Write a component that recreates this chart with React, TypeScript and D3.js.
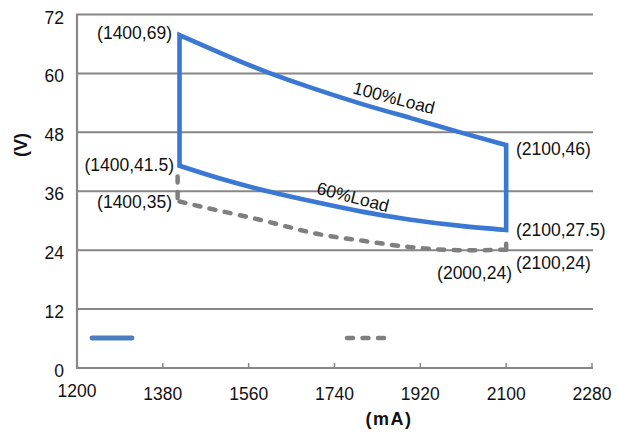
import React from "react";
import * as d3 from "d3";

// ---- data ----
const yTicks = [0, 12, 24, 36, 48, 60, 72];
const xTicks = [1200, 1380, 1560, 1740, 1920, 2100, 2280];

const curveX = [1415, 1500, 1600, 1700, 1800, 1900, 2000, 2100];
const load100 = [67.8, 64.2, 60.2, 56.8, 53.7, 50.9, 48.1, 45.4];
const load60 = [41.2, 38.6, 36.0, 33.8, 31.8, 30.2, 29.0, 28.1];
const lowLine = [33.9, 32.0, 29.8, 27.4, 25.9, 24.6, 24.0, 24.1];
const lowLeftVertical = [39.0, 33.9];
const lowRightVertical = [24.1, 25.6];
const lowLeftX = 1411;

const pointLabels = [
  { text: "(1400,69)", x: 172, y: 33, anchor: "end" },
  { text: "(1400,41.5)", x: 174, y: 165, anchor: "end" },
  { text: "(1400,35)", x: 172, y: 202, anchor: "end" },
  { text: "(2100,46)", x: 516, y: 149, anchor: "start" },
  { text: "(2100,27.5)", x: 516, y: 230, anchor: "start" },
  { text: "(2100,24)", x: 516, y: 263, anchor: "start" },
  { text: "(2000,24)", x: 512, y: 273, anchor: "end" },
];

const W = 617;
const H = 434;
const left = 77;
const right = 592;
const top = 14.5;
const bottom = 368;

export default function App() {
  const x = d3.scaleLinear().domain([1200, 2280]).range([left, right]);
  const y = d3.scaleLinear().domain([0, 72]).range([bottom, top]);

  const line = d3
    .line<[number, number]>()
    .x((d) => x(d[0]))
    .y((d) => y(d[1]))
    .curve(d3.curveNatural);
  const straight = d3
    .line<[number, number]>()
    .x((d) => x(d[0]))
    .y((d) => y(d[1]));

  const topPts: [number, number][] = curveX.map((v, i) => [v, load100[i]]);
  const botPts: [number, number][] = curveX.map((v, i) => [v, load60[i]]);
  const botRev = [...botPts].reverse();
  const bluePath =
    (line(topPts) || "") + (line(botRev) || "").replace(/^M/, "L") + "Z";

  const lowPts: [number, number][] = curveX.map((v, i) => [v, lowLine[i]]);
  const lowLeft: [number, number][] = lowLeftVertical.map((v) => [lowLeftX, v]);
  const lowRight: [number, number][] = lowRightVertical.map((v) => [2100, v]);

  const grid = "#878787";
  const blue = "#3b78d3";
  const dashGrey = "#7f7f7f";
  const font = "'Liberation Sans', Arial, sans-serif";
  const fs = 17.5;
  const dash = "6,9.5";

  return (
    <svg
      width={W}
      height={H}
      style={{ position: "absolute", left: 0, top: 0, background: "#fff" }}
      fontFamily={font}
    >
      <rect width={W} height={H} fill="#fff" />
      {/* gridlines */}
      {yTicks
        .filter((t) => t > 0)
        .map((t) => (
          <line
            key={t}
            x1={left}
            x2={right + 1}
            y1={y(t)}
            y2={y(t)}
            stroke={grid}
            strokeWidth={2}
          />
        ))}
      {/* axes */}
      <line x1={left} x2={left} y1={top - 1} y2={bottom + 1} stroke={grid} strokeWidth={2.2} />
      <line x1={left - 1} x2={right + 1} y1={bottom} y2={bottom} stroke={grid} strokeWidth={2.2} />
      {xTicks.map((t) => (
        <line
          key={t}
          x1={x(t)}
          x2={x(t)}
          y1={bottom}
          y2={bottom - 5}
          stroke={grid}
          strokeWidth={1.5}
        />
      ))}
      {/* y tick labels */}
      {yTicks.map((t) => (
        <text
          key={t}
          x={64}
          y={y(t) + 3}
          textAnchor="end"
          dominantBaseline="central"
          fontSize={fs}
          fill="#111"
        >
          {t}
        </text>
      ))}
      {/* x tick labels */}
      {xTicks.map((t) => (
        <text
          key={t}
          x={x(t)}
          y={t === 1200 ? 391 : 394}
          textAnchor="middle"
          dominantBaseline="central"
          fontSize={fs}
          fill="#111"
        >
          {t}
        </text>
      ))}
      {/* axis titles */}
      <text
        x={389}
        y={419}
        textAnchor="middle"
        dominantBaseline="central"
        fontSize={18}
        fontWeight="bold"
        letterSpacing={1.5}
        fill="#111"
      >
        (mA)
      </text>
      <text
        transform={`translate(21,145) rotate(-90)`}
        textAnchor="middle"
        dominantBaseline="central"
        fontSize={18}
        fontWeight="bold"
        fill="#111"
      >
        (V)
      </text>
      {/* dashed grey series */}
      <g fill="none" stroke={dashGrey} strokeWidth={4.5} strokeDasharray={dash} strokeLinecap="round">
        <path d={line(lowPts) || ""} />
        <path d={straight(lowLeft) || ""} />
        <path d={straight(lowRight) || ""} />
      </g>
      {/* blue envelope */}
      <path d={bluePath} fill="none" stroke={blue} strokeWidth={4.6} strokeLinejoin="miter" />
      {/* point labels */}
      {pointLabels.map((p) => (
        <text
          key={p.text + p.x}
          x={p.x}
          y={p.y}
          textAnchor={p.anchor as any}
          dominantBaseline="central"
          fontSize={fs}
          fill="#111"
        >
          {p.text}
        </text>
      ))}
      <text
        transform="translate(394,98) rotate(14.5)"
        textAnchor="middle"
        dominantBaseline="central"
        fontSize={fs}
        fill="#111"
      >
        100%Load
      </text>
      <text
        transform="translate(353,197) rotate(14.5)"
        textAnchor="middle"
        dominantBaseline="central"
        fontSize={fs}
        fill="#111"
      >
        60%Load
      </text>
      {/* legend samples */}
      <line x1={92} x2={132} y1={338} y2={338} stroke="#4a7ebf" strokeWidth={4.8} strokeLinecap="round" />
      <line
        x1={347}
        x2={388}
        y1={338}
        y2={338}
        stroke={dashGrey}
        strokeWidth={4.5}
        strokeDasharray={dash}
        strokeLinecap="round"
      />
    </svg>
  );
}
